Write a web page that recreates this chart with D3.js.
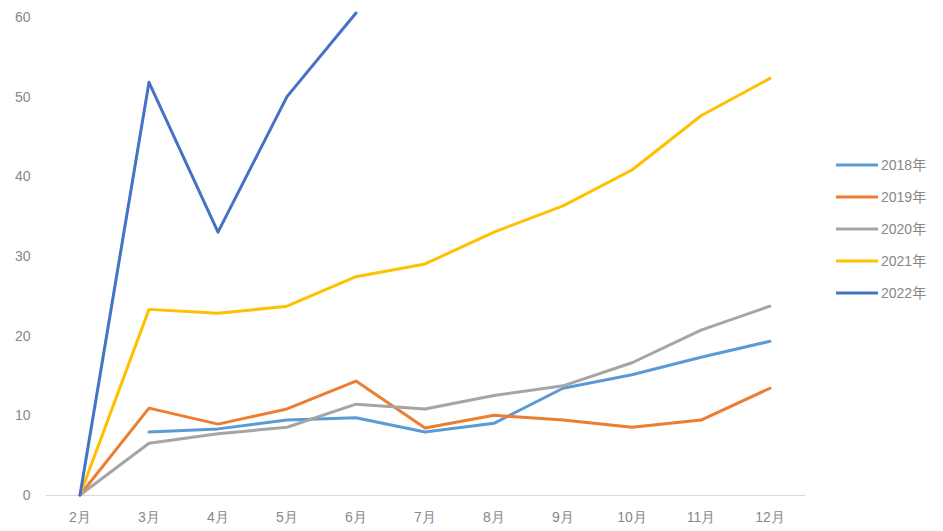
<!DOCTYPE html>
<html>
<head>
<meta charset="utf-8">
<script src="https://cdn.jsdelivr.net/npm/d3@7"></script>
<style>
  html, body { margin: 0; padding: 0; background: #fff; }
  svg { display: block; font-family: "Liberation Sans", "Noto Sans CJK SC", sans-serif; }
</style>
</head>
<body>
<svg id="chart" width="943" height="531"></svg>
<script>
// Months on the category axis
const months = ["2月", "3月", "4月", "5月", "6月", "7月", "8月", "9月", "10月", "11月", "12月"];
// Series names (legend order)
const seriesNames = ["2018年", "2019年", "2020年", "2021年", "2022年"];
// Cumulative values per month; null where no data
const v2018 = [null, 7.9, 8.3, 9.4, 9.7, 7.9, 9.0, 13.4, 15.1, 17.3, 19.3];
const v2019 = [0, 10.9, 8.9, 10.8, 14.3, 8.4, 10.0, 9.4, 8.5, 9.4, 13.4];
const v2020 = [0, 6.5, 7.7, 8.5, 11.4, 10.8, 12.5, 13.7, 16.6, 20.7, 23.7];
const v2021 = [0, 23.3, 22.8, 23.7, 27.4, 29.0, 33.0, 36.3, 40.8, 47.6, 52.3];
const v2022 = [0, 51.8, 33.0, 50.0, 60.5, null, null, null, null, null, null];
const yTicks = [0, 10, 20, 30, 40, 50, 60];

const seriesValues = [v2018, v2019, v2020, v2021, v2022];
const colors = ["#5B9BD5", "#ED7D31", "#A5A5A5", "#FFC000", "#4472C4"];
const textColor = "#888888";

const svg = d3.select("#chart");
const plot = { left: 45.5, right: 804.5, top: 17, bottom: 495 };

const x = d3.scaleBand().domain(months).range([plot.left, plot.right]);
const y = d3.scaleLinear().domain([0, 60]).range([plot.bottom, plot.top]);

// Y axis: labels only, no line
const yAxis = svg.append("g")
  .attr("transform", `translate(${plot.left - 15},0)`)
  .call(d3.axisLeft(y).tickValues(yTicks).tickSize(0).tickPadding(0));
yAxis.select(".domain").remove();
yAxis.selectAll("text")
  .attr("fill", textColor).attr("font-size", 14);

// X axis: baseline and month labels
const xAxis = svg.append("g")
  .attr("transform", `translate(0,${plot.bottom})`)
  .call(d3.axisBottom(x).tickSize(0).tickPadding(17));
xAxis.select(".domain").attr("stroke", "#d9d9d9").attr("stroke-width", 1.2);
xAxis.selectAll("text")
  .attr("fill", textColor).attr("font-size", 14);

// Lines
const line = d3.line()
  .defined(d => d.v !== null)
  .x(d => x(d.m) + x.bandwidth() / 2)
  .y(d => y(d.v));

seriesValues.forEach((vals, i) => {
  const pts = months.map((m, j) => ({ m, v: vals[j] }));
  svg.append("path")
    .datum(pts)
    .attr("fill", "none")
    .attr("stroke", colors[i])
    .attr("stroke-width", 3)
    .attr("stroke-linejoin", "round")
    .attr("stroke-linecap", "round")
    .attr("d", line);
});

// Legend
const legend = svg.append("g").attr("transform", "translate(836,165)");
seriesNames.forEach((name, i) => {
  const g = legend.append("g").attr("transform", `translate(0,${i * 32})`);
  g.append("line")
    .attr("x1", 0).attr("x2", 42).attr("y1", 0).attr("y2", 0)
    .attr("stroke", colors[i]).attr("stroke-width", 3);
  g.append("text")
    .attr("x", 45).attr("y", 0).attr("dy", "0.35em")
    .attr("fill", textColor).attr("font-size", 14)
    .text(name);
});
</script>
</body>
</html>
